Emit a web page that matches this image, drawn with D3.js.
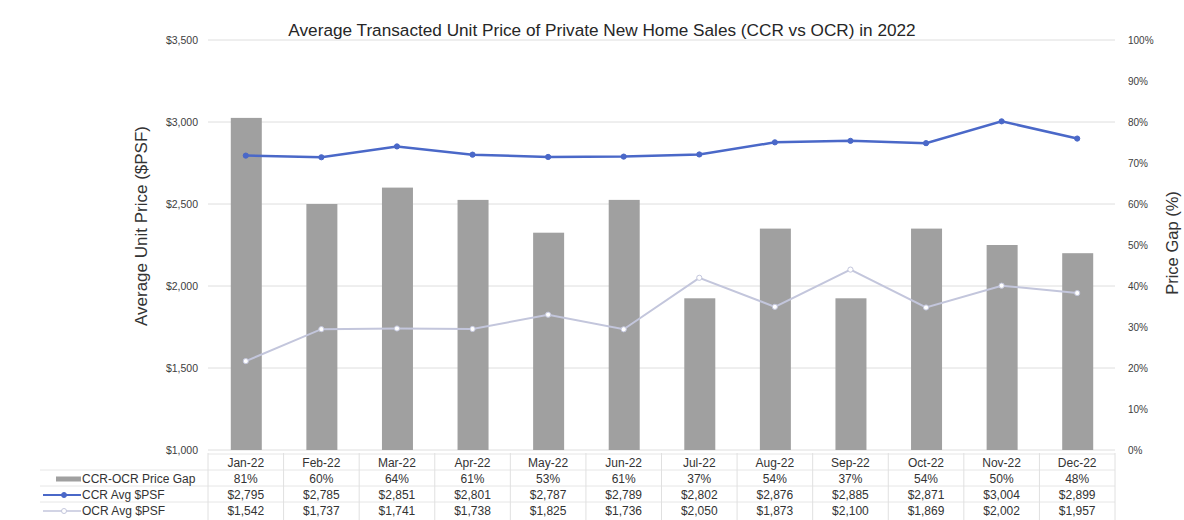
<!DOCTYPE html>
<html>
<head>
<meta charset="utf-8">
<script src="https://cdn.jsdelivr.net/npm/d3@7"></script>
<style>
  body { margin: 0; background: #fff; }
  svg { font-family: "Liberation Sans", Arial, sans-serif; }
</style>
</head>
<body>
<svg id="chart" width="1184" height="520"></svg>
<script>
const months = ["Jan-22","Feb-22","Mar-22","Apr-22","May-22","Jun-22","Jul-22","Aug-22","Sep-22","Oct-22","Nov-22","Dec-22"];
const priceGap = [81, 60, 64, 61, 53, 61, 37, 54, 37, 54, 50, 48];
const ccrPsf = [2795, 2785, 2851, 2801, 2787, 2789, 2802, 2876, 2885, 2871, 3004, 2899];
const ocrPsf = [1542, 1737, 1741, 1738, 1825, 1736, 2050, 1873, 2100, 1869, 2002, 1957];
const leftTicks = [1000, 1500, 2000, 2500, 3000, 3500];
const rightTicks = [0, 10, 20, 30, 40, 50, 60, 70, 80, 90, 100];

const plot = {left: 208, right: 1115, top: 40, bottom: 450};
const svg = d3.select("#chart");

const x = d3.scaleBand().domain(months).range([plot.left, plot.right]);
const yL = d3.scaleLinear().domain([1000, 3500]).range([plot.bottom, plot.top]);
const yR = d3.scaleLinear().domain([0, 100]).range([plot.bottom, plot.top]);
const cx = d => x(d) + x.bandwidth() / 2;

// gridlines
svg.append("g")
  .selectAll("line")
  .data(leftTicks)
  .join("line")
  .attr("x1", plot.left).attr("x2", plot.right)
  .attr("y1", d => yL(d)).attr("y2", d => yL(d))
  .style("stroke", "#dedede").style("stroke-width", 1);

// left axis
const leftAxis = svg.append("g")
  .attr("transform", `translate(${plot.left},0)`)
  .call(d3.axisLeft(yL).tickValues(leftTicks).tickSize(0).tickPadding(10).tickFormat(d => "$" + d3.format(",")(d)));
leftAxis.select(".domain").remove();
leftAxis.selectAll("text").style("font-size", "10.5px").style("fill", "#404040");

// right axis
const rightAxis = svg.append("g")
  .attr("transform", `translate(${plot.right},0)`)
  .call(d3.axisRight(yR).tickValues(rightTicks).tickSize(0).tickPadding(13).tickFormat(d => d + "%"));
rightAxis.select(".domain").remove();
rightAxis.selectAll("text").style("font-size", "10px").style("fill", "#404040");

// bars
svg.append("g")
  .selectAll("rect")
  .data(months)
  .join("rect")
  .attr("x", (d, i) => cx(d) - 15)
  .attr("width", 31)
  .attr("y", (d, i) => yR(priceGap[i]))
  .attr("height", (d, i) => plot.bottom - yR(priceGap[i]))
  .style("fill", "#a0a0a0");

// lines
function drawLine(values, color, width, markerFill) {
  const line = d3.line().x((d, i) => cx(months[i])).y(d => yL(d));
  svg.append("path")
    .datum(values)
    .attr("d", line)
    .style("fill", "none")
    .style("stroke", color)
    .style("stroke-width", width);
  svg.append("g")
    .selectAll("circle")
    .data(values)
    .join("circle")
    .attr("cx", (d, i) => cx(months[i]))
    .attr("cy", d => yL(d))
    .attr("r", 2.6)
    .style("fill", markerFill)
    .style("stroke", color)
    .style("stroke-width", 1);
}
drawLine(ocrPsf, "#c3c6dc", 2, "#ffffff");
drawLine(ccrPsf, "#4a68c8", 2.5, "#4a68c8");

// title
svg.append("text")
  .attr("x", 602).attr("y", 36)
  .attr("text-anchor", "middle")
  .style("font-size", "17.2px").style("fill", "#262626")
  .text("Average Transacted Unit Price of Private New Home Sales (CCR vs OCR) in 2022");

// axis titles
svg.append("text")
  .attr("transform", "translate(147,226) rotate(-90)")
  .attr("text-anchor", "middle")
  .style("font-size", "17px").style("fill", "#333")
  .text("Average Unit Price ($PSF)");
svg.append("text")
  .attr("transform", "translate(1178,243) rotate(-90)")
  .attr("text-anchor", "middle")
  .style("font-size", "16.5px").style("fill", "#333")
  .text("Price Gap (%)");

// data table
const tableTop = 453;
const rowH = 16;
const rows = [
  {label: null, values: months},
  {label: "CCR-OCR Price Gap", values: priceGap.map(d => d + "%"), key: "bar"},
  {label: "CCR Avg $PSF", values: ccrPsf.map(d => "$" + d3.format(",")(d)), key: "ccr"},
  {label: "OCR Avg $PSF", values: ocrPsf.map(d => "$" + d3.format(",")(d)), key: "ocr"}
];
const tableBottom = 520;

const table = svg.append("g");
// horizontal rules
table.selectAll("line.h")
  .data(d3.range(rows.length))
  .join("line")
  .attr("class", "h")
  .attr("x1", (d, i) => i === 0 ? plot.left : 40).attr("x2", plot.right)
  .attr("y1", d => tableTop + d * rowH + 1).attr("y2", d => tableTop + d * rowH + 1)
  .style("stroke", "#e6e6e6");
// vertical rules
table.selectAll("line.v")
  .data(months.concat(["end"]))
  .join("line")
  .attr("class", "v")
  .attr("x1", (d, i) => i < months.length ? x(d) : plot.right)
  .attr("x2", (d, i) => i < months.length ? x(d) : plot.right)
  .attr("y1", tableTop).attr("y2", tableBottom)
  .style("stroke", "#e0e0e0");

rows.forEach((row, r) => {
  const ty = tableTop + r * rowH + 14;
  table.append("g")
    .selectAll("text")
    .data(row.values)
    .join("text")
    .attr("x", (d, i) => cx(months[i]))
    .attr("y", ty)
    .attr("text-anchor", "middle")
    .style("font-size", "12px").style("fill", "#333")
    .text(d => d);
  if (row.label) {
    table.append("text")
      .attr("x", 82).attr("y", ty)
      .attr("text-anchor", "start")
      .style("font-size", "12px").style("fill", "#333")
      .text(row.label);
    const ky = ty - 4;
    if (row.key === "bar") {
      table.append("rect").attr("x", 56).attr("y", ky - 2.5).attr("width", 25).attr("height", 5).style("fill", "#a0a0a0");
    } else {
      const c = row.key === "ccr" ? "#4a68c8" : "#c3c6dc";
      table.append("line").attr("x1", 43).attr("x2", 81).attr("y1", ky).attr("y2", ky)
        .style("stroke", c).style("stroke-width", row.key === "ccr" ? 2 : 1.5);
      table.append("circle").attr("cx", 64).attr("cy", ky).attr("r", 2.5)
        .style("fill", row.key === "ccr" ? c : "#fff").style("stroke", c);
    }
  }
});
</script>
</body>
</html>
